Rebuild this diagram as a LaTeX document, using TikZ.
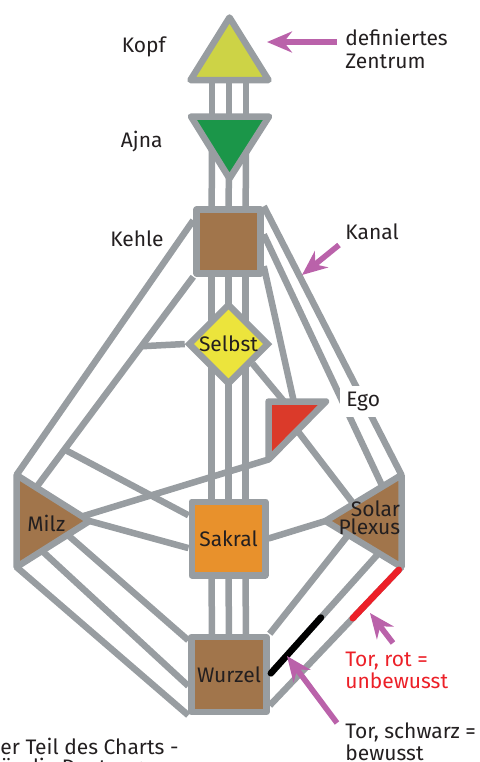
\documentclass[tikz,border=0pt]{standalone}
\usepackage{fontspec}
\setmainfont{Fira Sans}
\usetikzlibrary{arrows.meta, shapes.geometric, calc, backgrounds}

\definecolor{KanalGrau}{RGB}{152,157,161}
\definecolor{KopfGelb}{RGB}{205,211,70}
\definecolor{AjnaGruen}{RGB}{27,150,73}
\definecolor{ZentrumBraun}{RGB}{161,117,75}
\definecolor{SelbstGelb}{RGB}{236,228,60}
\definecolor{EgoRot}{RGB}{219,58,42}
\definecolor{SakralOrange}{RGB}{232,145,44}
\definecolor{ZeigerLila}{RGB}{186,98,170}
\definecolor{TorRot}{RGB}{236,32,40}
\definecolor{TextSchwarz}{RGB}{35,31,32}

\begin{document}
\begin{tikzpicture}[
    x=0.5pt, y=-0.5pt,
    font=\fontsize{10.5}{11.3}\selectfont,
    text=TextSchwarz,
    kanal/.style={draw=KanalGrau, line width=3.25pt},
    zentrum/.style={draw=KanalGrau, line width=3.25pt, line join=round, inner sep=0pt},
    quadrat/.style={zentrum, rectangle, minimum size=#1},
    tor/.style={line width=3.25pt, line cap=round},
    zeiger/.style={draw=ZeigerLila, line width=2.8pt, -{Stealth[length=12.5pt, width=10.5pt]}},
    notiz/.style={inner sep=0pt, align=left},
]
\useasboundingbox (0,0) rectangle (479,762);

% ---- Eckpunkte der Dreiecke ----
\coordinate (kopf) at (229,60);
\coordinate (kopfT) at (229.5,17.5);
\coordinate (kopfL) at (190.5,80);
\coordinate (kopfR) at (268.5,80);
\coordinate (ajna) at (229,135);
\coordinate (ajnaL) at (191,116.5);
\coordinate (ajnaR) at (269,116.5);
\coordinate (ajnaB) at (229.5,178.5);
\coordinate (egoTL) at (268.5,401.5);
\coordinate (egoTR) at (326,401.5);
\coordinate (egoBL) at (268.5,459.5);
\coordinate (milzT) at (16.5,475);
\coordinate (milzB) at (16.5,567);
\coordinate (milzA) at (89.5,521);
\coordinate (spT) at (401.5,475);
\coordinate (spB) at (401.5,567);
\coordinate (spA) at (325.5,521);

% ---- Zentren ----
\filldraw[zentrum, fill=KopfGelb] (kopfT) -- (kopfL) -- (kopfR) -- cycle;
\filldraw[zentrum, fill=AjnaGruen] (ajnaL) -- (ajnaR) -- (ajnaB) -- cycle;
\node[quadrat=32pt, fill=ZentrumBraun] (kehle) at (228.5,241.5) {};
\node[zentrum, diamond, aspect=1, minimum width=40.5pt, minimum height=40.5pt,
    line join=miter, fill=SelbstGelb] (selbst) at (228.5,344) {Selbst};
\filldraw[zentrum, fill=EgoRot] (egoTL) -- (egoTR) -- (egoBL) -- cycle;
\filldraw[zentrum, fill=ZentrumBraun] (milzT) -- (milzA) -- (milzB) -- cycle;
\filldraw[zentrum, fill=ZentrumBraun] (spT) -- (spA) -- (spB) -- cycle;
\node[quadrat=36.75pt, fill=SakralOrange] (sakral) at (228.5,538.5) {Sakral};
\node[quadrat=37.5pt, fill=ZentrumBraun] (wurzel) at (229,674.5) {Wurzel};

% ---- Kanaele ----
\begin{scope}[on background layer]
\foreach \a/\b in {kopf/ajna, ajna/kehle, kehle/selbst, selbst/sakral, sakral/wurzel}
    \foreach \dx in {-17,0,17}
        \draw[kanal] ([xshift=\dx*0.5pt]\a.center) -- ([xshift=\dx*0.5pt]\b.center);

% links
\draw[kanal] ($(kehle.north west)!.2!(kehle.south west)$) -- (milzT);
\draw[kanal] (kehle.south west) -- coordinate[pos=.33] (selbstAst)
    coordinate[pos=.82] (sakralAst) ($(milzT)!.27!(milzA)$);
\draw[kanal] (selbst.west) -- (selbstAst);
\draw[kanal] (sakralAst) -- ($(sakral.north west)!.21!(sakral.south west)$);
\draw[kanal] (milzA) -- ($(sakral.north west)!.62!(sakral.south west)$);
\draw[kanal] ($(milzT)!.9!(milzA)$) -- (egoBL);

% rechts
\draw[kanal] (kehle.north east) -- (spT);
\draw[kanal] ($(kehle.north east)!.4!(kehle.south east)$) -- ($(spT)!.25!(spA)$);
\draw[kanal] ($(kehle.north east)!.85!(kehle.south east)$) -- ($(egoTL)!.44!(egoTR)$);
\draw[kanal] ($(selbst.east)!.45!(selbst.south)$) -- ($(egoTL)!.27!(egoTR)$);
\draw[kanal] ($(egoTR)!.5!(egoBL)$) -- ($(spT)!.63!(spA)$);
\draw[kanal] (sakral.east) -- (spA);

% unten
\draw[kanal] (milzB) -- (wurzel.south west);
\draw[kanal] ($(milzB)!.35!(milzA)$) -- ($(wurzel.north west)!.64!(wurzel.south west)$);
\draw[kanal] ($(milzB)!.7!(milzA)$) -- ($(wurzel.north west)!.08!(wurzel.south west)$);
\draw[kanal] ($(spA)!.3!(spB)$) -- (wurzel.north east);
\draw[kanal] ($(spA)!.7!(spB)$) -- coordinate[pos=.53] (schwarzA)
    coordinate[pos=.99] (schwarzB) (wurzel.east);
\draw[kanal] (spB) -- coordinate[pos=.02] (rotA)
    coordinate[pos=.37] (rotB) ($(wurzel.north east)!.88!(wurzel.south east)$);
\end{scope}

% ---- Tore ----
\draw[tor, black] (schwarzA) -- (schwarzB);
\draw[tor, TorRot] (rotA) -- (rotB);

% ---- Beschriftung ----
\node[notiz, anchor=base east] (kopfText) at (166,52) {Kopf};
\node[notiz, anchor=base east] (ajnaText) at (163,147.5) {Ajna};
\node[notiz, anchor=base east] (kehleText) at (164,246) {Kehle};
\node[notiz, anchor=north west] (defzText) at (345,29) {definiertes\\Zentrum};
\node[notiz, anchor=base west] (kanalText) at (345,239) {Kanal};
\node[notiz, inner sep=3pt, fill=white, anchor=base west] (egoText) at (340,406.5) {Ego};
\node[notiz, anchor=base west] (milzText) at (27,531.5) {Milz};
\node[notiz, align=right, anchor=north east, font=\fontsize{10.5}{9.4}\selectfont]
    (spText) at (400.5,500) {Solar\\Plexus};
\node[notiz, anchor=north west, text=TorRot] (rotText) at (345,651.5) {Tor, rot =\\unbewusst};
\node[notiz, anchor=north west] (schwarzText) at (345,722) {Tor, schwarz =\\bewusst};
\node[notiz, anchor=north west, font=\fontsize{10.5}{10}\selectfont]
    (fussText) at (0,738) {er Teil des Charts -\\ür die Deutungen};

% ---- Zeiger ----
\coordinate (kopfPfeil) at (337,42);
\coordinate (zielKopf) at (267,42);
\coordinate (kanalPfeil) at (339,245);
\coordinate (zielKanal) at (302,275);
\coordinate (rotPfeil) at (393,643);
\coordinate (zielRot) at (370,613);
\coordinate (schwarzPfeil) at (337,723);
\coordinate (zielSchwarz) at (287,656);
\draw[zeiger] (kopfPfeil) -- (zielKopf);
\draw[zeiger] (kanalPfeil) -- (zielKanal);
\draw[zeiger] (rotPfeil) -- (zielRot);
\draw[zeiger] (schwarzPfeil) -- (zielSchwarz);

\end{tikzpicture}
\end{document}
